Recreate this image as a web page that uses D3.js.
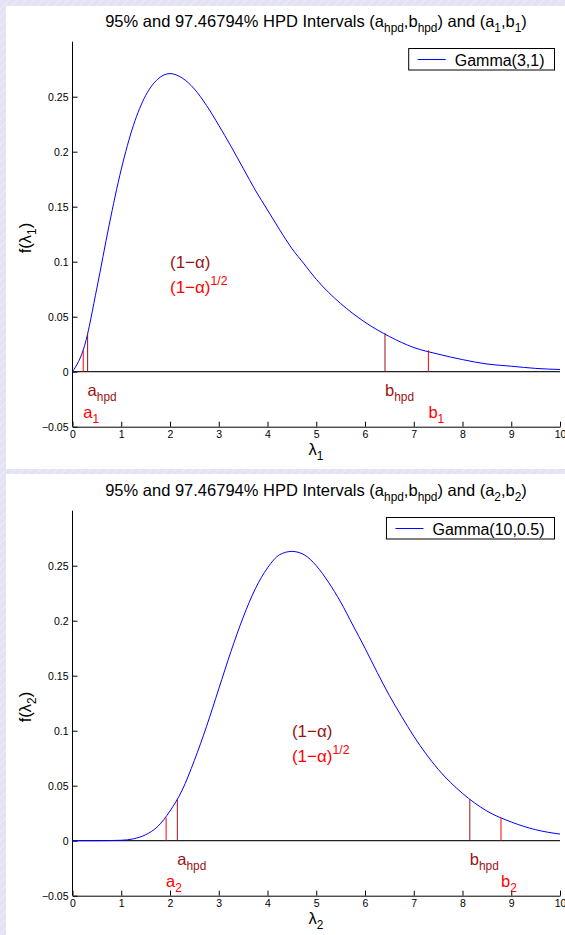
<!DOCTYPE html>
<html><head><meta charset="utf-8">
<script src="https://cdn.jsdelivr.net/npm/d3@7"></script>
<style>
body{margin:0;background:#e4e4f5;}
svg{display:block;font-family:"Liberation Sans",Arial,Helvetica,sans-serif;}
</style>
</head><body>
<svg id="chart" width="565" height="935"></svg>
<script>
// ---------- data ----------
const xTicks = [0,1,2,3,4,5,6,7,8,9,10];
const yTicks = [-0.05,0,0.05,0.1,0.15,0.2,0.25];
const yTickLabels = ["\u22120.05","0","0.05","0.1","0.15","0.2","0.25"];

// Panel 1: Gamma(3,1) density
const gamma1X = [0,0.25,0.5,0.75,1,1.25,1.5,1.75,2,2.25,2.5,2.75,3,3.25,3.5,3.75,4,4.25,4.5,4.75,5,5.5,6,6.5,7,7.5,8,8.5,9,9.5,10];
const gamma1Y = [0,0.024,0.076,0.133,0.184,0.224,0.251,0.266,0.271,0.267,0.257,0.242,0.224,0.205,0.185,0.165,0.147,0.129,0.112,0.098,0.084,0.062,0.045,0.032,0.022,0.016,0.011,0.007,0.005,0.003,0.002];
const hpd1 = [0.31, 6.41];      // (a_hpd, b_hpd)
const hpd1Height = 0.035;
const int1 = [0.22, 7.30];      // (a_1, b_1)
const int1Height = 0.0195;
const mode1 = 2;

// Panel 2: Gamma(10,0.5) density
const gamma2X = [0,0.5,1,1.25,1.5,1.75,2,2.25,2.5,2.75,3,3.25,3.5,3.75,4,4.25,4.5,4.75,5,5.25,5.5,5.75,6,6.25,6.5,6.75,7,7.5,8,8.5,9,9.5,10];
const gamma2Y = [0,0,0.0004,0.0017,0.0054,0.013,0.027,0.046,0.073,0.104,0.138,0.172,0.203,0.229,0.248,0.260,0.263,0.260,0.250,0.235,0.217,0.196,0.175,0.153,0.132,0.113,0.095,0.065,0.043,0.027,0.017,0.010,0.006];
const hpd2 = [2.15, 8.15];
const hpd2Height = 0.0376;
const int2 = [1.92, 8.79];
const int2Height = 0.0209;
const mode2 = 4.5;

const legendLabels = ["Gamma(3,1)", "Gamma(10,0.5)"];
const subIndex = ["1", "2"];

// ---------- drawing ----------
const svg = d3.select("#chart");
const DARK = "#981414", RED = "#ff0000", BLUE = "#0000ff";

const defs = svg.append("defs");
const pat = defs.append("pattern").attr("id","bgpat").attr("patternUnits","userSpaceOnUse")
  .attr("width",6).attr("height",6).attr("patternTransform","rotate(45)");
pat.append("rect").attr("width",6).attr("height",6).attr("fill","#e3e3f5");
pat.append("line").attr("x1",0).attr("y1",0).attr("x2",0).attr("y2",6).attr("stroke","#ebebf8").attr("stroke-width",2);
svg.append("rect").attr("width",565).attr("height",935).attr("fill","url(#bgpat)");

function rich(sel, parts, size){
  let shift = 0;
  parts.forEach(([t,k])=>{
    let target = k==="sub" ? size*0.32 : k==="sup" ? -size*0.42 : 0;
    const ts = sel.append("tspan").text(t)
      .attr("font-size", k==="n" ? size : size*0.72);
    if (target !== shift) { ts.attr("dy", target - shift); shift = target; }
  });
  return sel;
}

function panel(off, cfg){
  const x = d3.scaleLinear().domain([0,10]).range([72.5,560]);
  const y = d3.scaleLinear().domain([-0.05,0.3]).range([426.7+off,41.7+off]);
  const g = svg.append("g");

  g.append("rect").attr("x",6).attr("y",cfg.panelTop).attr("width",559).attr("height",cfg.panelH).attr("fill","#fff");

  const tt = g.append("text").attr("x",316).attr("y",27+off).attr("text-anchor","middle").attr("fill","#000");
  rich(tt, [["95% and 97.46794% HPD Intervals (a","n"],["hpd","sub"],[",b","n"],["hpd","sub"],[") and (a","n"],[cfg.idx,"sub"],[",b","n"],[cfg.idx,"sub"],[")","n"]], 16.5);

  const ya = d3.axisLeft(y).tickValues(yTicks).tickFormat((d,i)=>yTickLabels[i]).tickSizeInner(-5).tickSizeOuter(0).tickPadding(4);
  const yg = g.append("g").attr("transform",`translate(${x(0)},0)`).call(ya);
  yg.select(".domain").remove();
  g.append("line").attr("x1",x(0)).attr("x2",x(0)).attr("y1",y(-0.05)).attr("y2",y(0.3)).attr("stroke","#000");
  const xa = d3.axisBottom(x).tickValues(xTicks).tickSizeInner(-5).tickSizeOuter(0).tickPadding(4);
  const xg = g.append("g").attr("transform",`translate(0,${y(-0.05)})`).call(xa);
  [yg,xg].forEach(a=>{
    a.selectAll("text").attr("font-size",10.5).attr("font-family","Liberation Sans, Arial, sans-serif").attr("fill","#000");
    a.selectAll(".tick line").attr("stroke","#000");
  });
  xg.select(".domain").attr("stroke","#000");

  g.append("line").attr("x1",x(0)).attr("x2",x(10)).attr("y1",y(0)).attr("y2",y(0)).attr("stroke","#222").attr("stroke-width",1.3);

  const line = d3.line().x(d=>x(d[0])).y(d=>y(d[1])).curve(d3.curveMonotoneX);
  g.append("path").datum(cfg.xs.map((v,i)=>[v,cfg.ys[i]])).attr("d",line)
    .attr("fill","none").attr("stroke",BLUE).attr("stroke-width",1);

  cfg.intv.forEach(v=>g.append("line").attr("x1",x(v)).attr("x2",x(v)).attr("y1",y(0)).attr("y2",y(cfg.intvH)).attr("stroke",RED).attr("stroke-width",1));
  cfg.hpd.forEach(v=>g.append("line").attr("x1",x(v)).attr("x2",x(v)).attr("y1",y(0)).attr("y2",y(cfg.hpdH)).attr("stroke",DARK).attr("stroke-width",1));

  const fs = 16.5;
  const lab = (xv, yv, letter, sub, col) => {
    const t = g.append("text").attr("x",x(xv)).attr("y",y(yv)+fs*0.27).attr("fill",col);
    rich(t, [[letter,"n"],[sub,"sub"]], fs);
  };
  lab(cfg.hpd[0], -0.018, "a", "hpd", DARK);
  lab(cfg.hpd[1], -0.018, "b", "hpd", DARK);
  lab(cfg.intv[0], -0.038, "a", cfg.idx, RED);
  lab(cfg.intv[1], -0.038, "b", cfg.idx, RED);

  const afs = 17;
  const t1 = g.append("text").attr("x",x(cfg.mode)).attr("y",y(0.099)+afs*0.33).attr("fill",DARK);
  rich(t1, [["(1\u2212\u03b1)","n"]], afs);
  const t2 = g.append("text").attr("x",x(cfg.mode)).attr("y",y(0.077)+afs*0.33).attr("fill",RED);
  rich(t2, [["(1\u2212\u03b1)","n"],["1/2","sup"]], afs);

  const xl = g.append("text").attr("x",316).attr("y",455+off).attr("text-anchor","middle").attr("fill","#000");
  rich(xl, [["\u03bb","n"],[cfg.idx,"sub"]], 16.5);
  const yl = g.append("text").attr("transform",`translate(31,${238+off}) rotate(-90)`).attr("text-anchor","middle").attr("fill","#000");
  rich(yl, [["f(\u03bb","n"],[cfg.idx,"sub"],[")","n"]], 16.5);

  // legend
  const lg = g.append("g");
  const box = lg.append("rect");
  const sample = lg.append("line");
  const lt = lg.append("text").attr("y",66+off).attr("font-size",16).attr("fill","#000").text(cfg.legend);
  const tw = lt.node().getComputedTextLength();
  const right = 554.5, bw = 9+28+9+tw+10, left = right-bw;
  box.attr("x",left).attr("y",48.5+off).attr("width",bw).attr("height",21.5).attr("fill","#fff").attr("stroke","#000").attr("stroke-width",1);
  sample.attr("x1",left+9).attr("x2",left+37).attr("y1",59.5+off).attr("y2",59.5+off).attr("stroke",BLUE);
  lt.attr("x", left+46);
}

panel(0, {panelTop:6, panelH:463, idx:subIndex[0], xs:gamma1X, ys:gamma1Y, hpd:hpd1, hpdH:hpd1Height, intv:int1, intvH:int1Height, mode:mode1, legend:legendLabels[0]});
panel(469, {panelTop:474, panelH:461, idx:subIndex[1], xs:gamma2X, ys:gamma2Y, hpd:hpd2, hpdH:hpd2Height, intv:int2, intvH:int2Height, mode:mode2, legend:legendLabels[1]});
</script>
</body></html>
